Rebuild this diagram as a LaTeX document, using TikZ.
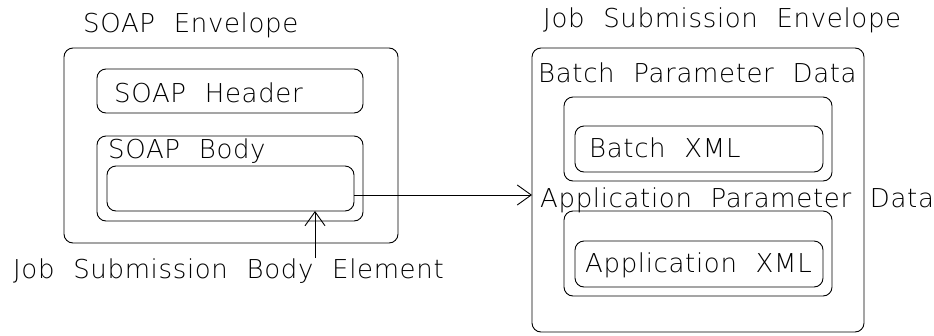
\documentclass[tikz,border=0pt]{standalone}
\usepackage{fontspec}
% thin sans face with wide word gaps, close to a plotter stroke font
\IfFontExistsTF{DejaVu Sans ExtraLight}
  {\setmainfont[WordSpace=2.1, LetterSpace=2.5]{DejaVu Sans ExtraLight}}
  {\setmainfont[WordSpace=2.1, LetterSpace=2.5]{DejaVu Sans}}
\usetikzlibrary{arrows.meta}

\begin{document}
\begin{tikzpicture}[x=1pt, y=-1pt,
  box/.style={draw, line width=0.9pt, rounded corners=9pt, inner sep=0pt,
              outer sep=0pt, anchor=north west},
  lbl/.style={anchor=base west, inner sep=0pt, font=\fontsize{26}{30}\selectfont},
  arr/.style={line width=0.9pt, -{Straight Barb[length=14pt, width=20pt, line width=0.9pt]}}]

  \useasboundingbox[fill=white] (0,0) rectangle (934,335);

  % SOAP envelope and its parts
  \node[lbl] (envLt) at (83,32) {SOAP Envelope};
  \node[box, minimum width=334pt, minimum height=195pt] (envL) at (64,48) {};
  \node[box, minimum width=266pt, minimum height=44pt] (hdr) at (97,69) {};
  \node[lbl] (hdrt) at (114,102) {SOAP Header};
  \node[box, minimum width=266pt, minimum height=85pt] (body) at (97,136) {};
  \node[lbl] (bodyt) at (108,158) {SOAP Body};
  \node[box, minimum width=247pt, minimum height=45pt] (elem) at (107,166) {};
  \node[lbl] (elemt) at (13,278) {Job Submission Body Element};

  % job submission envelope and its parts
  \node[lbl] (envRt) at (543,27) {Job Submission Envelope};
  \node[box, minimum width=332pt, minimum height=284pt] (envR) at (532,48) {};
  \node[lbl] (batcht) at (538,82) {Batch Parameter Data};
  \node[box, minimum width=268pt, minimum height=84pt] (batch) at (564,97) {};
  \node[box, minimum width=248pt, minimum height=46pt] (bxml) at (575,126) {};
  \node[lbl] (bxmlt) at (589,157) {Batch XML};
  \node[lbl] (appt) at (540,207) {Application Parameter Data};
  \node[box, minimum width=268pt, minimum height=85pt] (app) at (564,211) {};
  \node[box, minimum width=248pt, minimum height=46pt] (axml) at (575,241) {};
  \node[lbl] (axmlt) at (585,272) {Application XML};

  % connectors
  \path (elem.east) ++(0,6.5) coordinate (out);
  \draw[arr] (out) -- (out -| envR.west);
  \coordinate (tail) at (315,258);
  \draw[arr] (tail) -- (tail |- elem.south);
\end{tikzpicture}
\end{document}
